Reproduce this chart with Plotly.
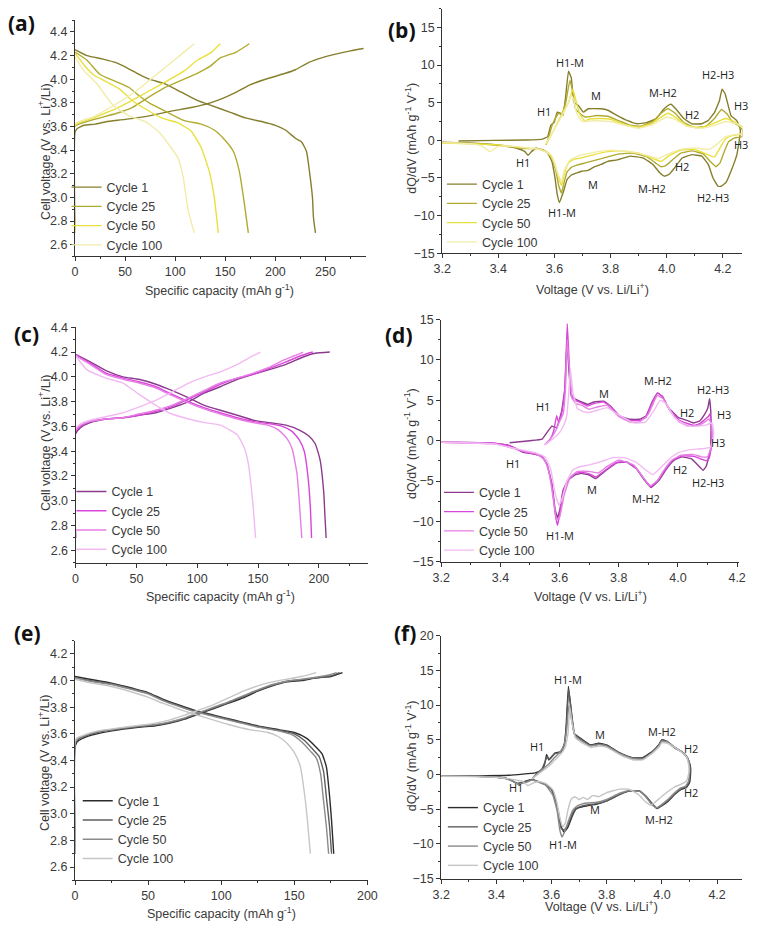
import plotly.graph_objects as go

W, H = 760, 928
AX_FONT = "Liberation Sans, Arial, sans-serif"
ANN_FONT = "Open Sans, sans-serif"
TXT = "#3a3a3a"
LINE = "#333333"

cycle_names = ["Cycle 1", "Cycle 25", "Cycle 50", "Cycle 100"]
a_colors = ["#857f2c", "#b0aa30", "#e8e03c", "#f2eca8"]
c_colors = ["#8b3a8e", "#d946d9", "#e67ee6", "#f2baf2"]
e_colors = ["#2b2b2b", "#5e5e5e", "#8a8a8a", "#c6c6c6"]

# ---------------- Panel (a): voltage profiles ----------------
a_c1_chg_cap = [0, 0, 2, 9, 20, 31, 50, 74, 96, 116, 135, 148, 161, 174, 194, 210, 220, 233, 246, 259, 275, 288]
a_c1_chg_v = [2.70, 3.55, 3.58, 3.61, 3.62, 3.64, 3.66, 3.69, 3.73, 3.76, 3.80, 3.84, 3.89, 3.95, 4.01, 4.05, 4.08, 4.14, 4.18, 4.21, 4.24, 4.26]
a_c1_dis_cap = [0, 12, 28, 41, 51, 64, 74, 90, 106, 122, 135, 155, 171, 187, 200, 210, 220, 226, 231, 234, 237, 238, 240]
a_c1_dis_v = [4.25, 4.20, 4.17, 4.14, 4.10, 4.04, 4.00, 3.96, 3.89, 3.82, 3.78, 3.72, 3.67, 3.64, 3.61, 3.57, 3.50, 3.47, 3.39, 3.22, 3.00, 2.83, 2.70]
a_c25_chg_cap = [0, 0, 15, 41, 57, 74, 90, 106, 122, 135, 145, 161, 174]
a_c25_chg_v = [2.70, 3.60, 3.65, 3.71, 3.76, 3.85, 3.93, 3.99, 4.05, 4.11, 4.18, 4.23, 4.30]
a_c25_dis_cap = [0, 12, 25, 41, 54, 64, 74, 90, 109, 126, 139, 148, 158, 164, 169, 173]
a_c25_dis_v = [4.23, 4.16, 4.04, 3.98, 3.93, 3.86, 3.80, 3.73, 3.65, 3.62, 3.57, 3.50, 3.39, 3.22, 2.95, 2.70]
a_c50_chg_cap = [0, 0, 18, 41, 57, 74, 93, 109, 122, 135, 145]
a_c50_chg_v = [2.70, 3.61, 3.67, 3.75, 3.82, 3.90, 3.99, 4.07, 4.16, 4.22, 4.30]
a_c50_dis_cap = [0, 9, 18, 31, 44, 57, 70, 87, 103, 116, 126, 134, 139, 143]
a_c50_dis_v = [4.22, 4.12, 4.04, 3.98, 3.92, 3.82, 3.75, 3.67, 3.63, 3.56, 3.42, 3.22, 3.00, 2.70]
a_c100_chg_cap = [0, 0, 18, 41, 61, 77, 93, 106, 119]
a_c100_chg_v = [2.70, 3.62, 3.68, 3.79, 3.90, 4.01, 4.12, 4.21, 4.30]
a_c100_dis_cap = [0, 9, 22, 38, 54, 70, 83, 96, 103, 108, 113, 119]
a_c100_dis_v = [4.19, 4.07, 3.96, 3.78, 3.69, 3.64, 3.56, 3.42, 3.33, 3.17, 2.89, 2.70]

# ---------------- Panel (c): voltage profiles ----------------
c_c1_chg_cap = [0, 0, 4, 12, 25, 39, 52, 66, 79, 93, 106, 119, 133, 146, 160, 173, 187, 197, 209]
c_c1_chg_v = [2.70, 3.54, 3.59, 3.63, 3.66, 3.67, 3.69, 3.71, 3.75, 3.80, 3.87, 3.92, 3.98, 4.02, 4.06, 4.10, 4.16, 4.19, 4.20]
c_c1_dis_cap = [0, 12, 25, 39, 52, 66, 79, 93, 106, 119, 133, 146, 160, 173, 184, 192, 197, 201, 204, 205, 206]
c_c1_dis_v = [4.18, 4.12, 4.05, 4.00, 3.98, 3.94, 3.89, 3.83, 3.77, 3.73, 3.69, 3.65, 3.63, 3.61, 3.57, 3.52, 3.46, 3.33, 3.07, 2.88, 2.70]
c_c25_chg_cap = [0, 0, 4, 12, 25, 39, 52, 66, 79, 93, 106, 119, 133, 146, 160, 173, 185, 195]
c_c25_chg_v = [2.70, 3.56, 3.60, 3.64, 3.66, 3.67, 3.69, 3.72, 3.76, 3.82, 3.88, 3.94, 3.99, 4.02, 4.07, 4.12, 4.17, 4.20]
c_c25_dis_cap = [0, 12, 25, 39, 52, 66, 79, 93, 106, 119, 133, 146, 160, 170, 178, 184, 188, 191, 193, 194]
c_c25_dis_v = [4.18, 4.11, 4.03, 3.99, 3.96, 3.92, 3.86, 3.80, 3.75, 3.71, 3.67, 3.64, 3.62, 3.60, 3.56, 3.49, 3.40, 3.20, 2.95, 2.70]
c_c50_chg_cap = [0, 0, 4, 12, 25, 39, 52, 66, 79, 93, 106, 119, 133, 146, 160, 170, 180, 187]
c_c50_chg_v = [2.70, 3.57, 3.61, 3.64, 3.66, 3.67, 3.70, 3.73, 3.77, 3.83, 3.89, 3.95, 3.99, 4.03, 4.08, 4.13, 4.17, 4.20]
c_c50_dis_cap = [0, 12, 25, 39, 52, 66, 79, 93, 106, 119, 133, 146, 158, 167, 174, 178, 182, 184, 186]
c_c50_dis_v = [4.17, 4.10, 4.02, 3.98, 3.95, 3.91, 3.85, 3.79, 3.74, 3.70, 3.66, 3.63, 3.61, 3.57, 3.50, 3.42, 3.22, 2.98, 2.70]
c_c100_chg_cap = [0, 0, 4, 12, 39, 66, 93, 106, 119, 133, 144, 152]
c_c100_chg_v = [2.70, 3.58, 3.62, 3.65, 3.71, 3.81, 3.95, 4.00, 4.04, 4.10, 4.16, 4.20]
c_c100_dis_cap = [0, 9, 25, 39, 52, 66, 79, 93, 106, 119, 133, 139, 142, 144, 146, 148]
c_c100_dis_v = [4.17, 4.06, 3.99, 3.95, 3.86, 3.77, 3.70, 3.66, 3.63, 3.61, 3.53, 3.42, 3.30, 3.15, 2.95, 2.70]

# ---------------- Panel (e): voltage profiles ----------------
e_c1_chg_cap = [0, 0, 1.5, 6, 15, 30, 45, 55, 65, 75, 85, 95, 105, 115, 125, 135, 145, 155, 165, 175, 183]
e_c1_chg_v = [2.70, 3.50, 3.54, 3.57, 3.60, 3.63, 3.65, 3.66, 3.68, 3.71, 3.75, 3.79, 3.83, 3.87, 3.92, 3.96, 3.99, 4.00, 4.02, 4.03, 4.06]
e_c1_dis_cap = [0, 10, 25, 40, 50, 60, 70, 82, 95, 110, 125, 140, 150, 158, 165, 169, 172, 174, 175.5, 177]
e_c1_dis_v = [4.03, 4.01, 3.98, 3.94, 3.91, 3.86, 3.82, 3.775, 3.74, 3.70, 3.66, 3.63, 3.61, 3.57, 3.50, 3.45, 3.35, 3.15, 2.95, 2.70]
e_c25_chg_cap = [0, 0, 1.5, 6, 15, 30, 45, 55, 65, 75, 85, 95, 105, 115, 125, 135, 145, 155, 165, 175, 181]
e_c25_chg_v = [2.70, 3.52, 3.55, 3.58, 3.61, 3.635, 3.655, 3.665, 3.685, 3.715, 3.755, 3.795, 3.835, 3.88, 3.925, 3.965, 3.995, 4.005, 4.02, 4.035, 4.06]
e_c25_dis_cap = [0, 10, 25, 40, 50, 60, 70, 82, 95, 110, 125, 140, 150, 157, 163, 167, 170, 172, 174, 175.5]
e_c25_dis_v = [4.02, 4.00, 3.975, 3.935, 3.905, 3.855, 3.815, 3.77, 3.735, 3.695, 3.655, 3.625, 3.60, 3.55, 3.48, 3.43, 3.32, 3.12, 2.92, 2.70]
e_c50_chg_cap = [0, 0, 1.5, 6, 15, 30, 45, 55, 65, 75, 85, 95, 105, 115, 125, 135, 145, 155, 165, 173, 179]
e_c50_chg_v = [2.70, 3.53, 3.56, 3.585, 3.615, 3.64, 3.66, 3.67, 3.69, 3.72, 3.76, 3.80, 3.84, 3.885, 3.93, 3.97, 3.995, 4.01, 4.025, 4.04, 4.06]
e_c50_dis_cap = [0, 10, 25, 40, 50, 60, 70, 82, 95, 110, 125, 140, 149, 155, 161, 165, 168, 170, 172, 173.5]
e_c50_dis_v = [4.02, 3.995, 3.97, 3.93, 3.90, 3.85, 3.81, 3.765, 3.73, 3.69, 3.65, 3.62, 3.59, 3.54, 3.47, 3.42, 3.30, 3.10, 2.90, 2.70]
e_c100_chg_cap = [0, 0, 1.5, 6, 15, 30, 45, 55, 65, 75, 85, 95, 105, 115, 125, 135, 145, 155, 165]
e_c100_chg_v = [2.70, 3.54, 3.57, 3.59, 3.62, 3.645, 3.665, 3.68, 3.705, 3.74, 3.78, 3.82, 3.87, 3.92, 3.96, 3.99, 4.01, 4.03, 4.06]
e_c100_dis_cap = [0, 10, 25, 40, 50, 60, 70, 78, 90, 105, 120, 132, 139, 145, 150, 154, 157, 159, 161]
e_c100_dis_v = [4.01, 3.985, 3.955, 3.91, 3.875, 3.83, 3.79, 3.76, 3.72, 3.67, 3.63, 3.61, 3.58, 3.53, 3.46, 3.36, 3.15, 2.95, 2.70]

# ---------------- Panel (b): dQ/dV ----------------
b_c1_chg_v = [3.258, 3.385, 3.50, 3.558, 3.576, 3.587, 3.599, 3.61, 3.622, 3.63, 3.639, 3.65, 3.66, 3.669, 3.686, 3.703, 3.72, 3.766, 3.79, 3.824, 3.859, 3.894, 3.928, 3.963, 3.986, 4.003, 4.015, 4.032, 4.061, 4.09, 4.125, 4.148, 4.171, 4.188, 4.197, 4.208, 4.229, 4.25, 4.262]
b_c1_chg_dq = [-0.09, 0.0, 0.05, 0.17, 0.5, 2.0, 2.4, 3.75, 3.6, 3.3, 5.5, 9.2, 8.3, 5.1, 4.6, 3.75, 4.2, 4.2, 4.0, 3.3, 2.65, 2.2, 2.35, 2.9, 4.0, 4.6, 4.8, 4.2, 2.9, 2.2, 2.2, 2.65, 3.75, 5.3, 6.8, 6.2, 3.3, 2.6, 1.5]
b_c1_dis_v = [4.262, 4.25, 4.229, 4.211, 4.194, 4.183, 4.165, 4.148, 4.125, 4.09, 4.055, 4.027, 4.009, 3.992, 3.975, 3.951, 3.917, 3.87, 3.824, 3.79, 3.766, 3.743, 3.72, 3.697, 3.674, 3.66, 3.645, 3.633, 3.618, 3.61, 3.602, 3.591, 3.576, 3.558, 3.535, 3.518, 3.506, 3.495, 3.466, 3.42, 3.327, 3.2]
b_c1_dis_dq = [0.9, -1.9, -4.1, -5.6, -6.1, -6.1, -5.0, -3.2, -2.1, -1.9, -2.35, -3.7, -4.5, -4.75, -4.3, -3.2, -2.35, -2.1, -2.6, -2.8, -3.2, -3.5, -4.0, -4.1, -4.4, -4.6, -5.2, -6.7, -8.25, -7.2, -5.0, -2.8, -1.7, -1.25, -1.05, -1.5, -2.0, -1.5, -1.05, -0.7, -0.4, -0.26]
b_c25_chg_v = [3.57, 3.58, 3.59, 3.60, 3.615, 3.625, 3.64, 3.655, 3.665, 3.675, 3.69, 3.71, 3.75, 3.79, 3.83, 3.87, 3.91, 3.95, 3.98, 4.005, 4.03, 4.06, 4.10, 4.14, 4.17, 4.195, 4.215, 4.235, 4.255, 4.27]
b_c25_chg_dq = [-0.6, 0.5, 1.8, 2.7, 3.6, 3.4, 5.0, 8.0, 6.5, 4.2, 3.6, 3.1, 3.3, 3.2, 2.6, 2.0, 1.9, 2.5, 3.6, 4.2, 3.6, 2.4, 1.7, 1.9, 2.9, 4.1, 3.5, 2.4, 2.0, 1.4]
b_c25_dis_v = [4.27, 4.24, 4.22, 4.205, 4.19, 4.175, 4.155, 4.13, 4.09, 4.05, 4.02, 3.995, 3.98, 3.96, 3.93, 3.88, 3.83, 3.79, 3.75, 3.71, 3.68, 3.66, 3.645, 3.635, 3.625, 3.615, 3.605, 3.59, 3.57, 3.54, 3.50, 3.45, 3.35, 3.2]
b_c25_dis_dq = [0.5, 0.3, -0.2, -1.5, -3.0, -3.5, -2.8, -1.8, -1.4, -1.7, -2.6, -3.4, -3.5, -3.0, -2.2, -1.7, -1.8, -2.2, -2.6, -3.0, -3.3, -3.6, -4.2, -5.5, -7.0, -6.0, -4.0, -2.3, -1.5, -1.1, -1.1, -0.9, -0.5, -0.3]
b_c50_chg_v = [3.57, 3.59, 3.61, 3.63, 3.65, 3.665, 3.675, 3.69, 3.71, 3.72, 3.76, 3.80, 3.85, 3.90, 3.95, 3.98, 4.005, 4.03, 4.07, 4.12, 4.17, 4.21, 4.24, 4.27, 4.29]
b_c50_chg_dq = [-0.5, 0.8, 2.3, 3.8, 5.0, 6.8, 5.5, 3.5, 2.5, 2.8, 2.9, 2.8, 2.1, 1.7, 2.3, 3.1, 3.6, 3.1, 2.0, 1.7, 2.3, 2.9, 2.5, 1.8, 1.3]
b_c50_dis_v = [4.29, 4.26, 4.23, 4.21, 4.19, 4.17, 4.14, 4.10, 4.05, 4.01, 3.98, 3.95, 3.90, 3.84, 3.79, 3.74, 3.70, 3.67, 3.65, 3.635, 3.625, 3.615, 3.60, 3.58, 3.55, 3.50, 3.45, 3.40, 3.30, 3.2]
b_c50_dis_dq = [1.0, 0.8, 0.6, 0.2, -1.0, -2.2, -1.8, -1.2, -1.3, -2.0, -2.8, -2.4, -1.7, -1.4, -1.5, -1.9, -2.3, -2.5, -3.0, -4.5, -6.0, -5.0, -3.0, -1.7, -1.2, -1.0, -0.8, -0.6, -0.45, -0.35]
b_c100_chg_v = [3.57, 3.60, 3.63, 3.65, 3.66, 3.67, 3.68, 3.70, 3.74, 3.80, 3.85, 3.90, 3.95, 4.0, 4.03, 4.07, 4.12, 4.17, 4.21, 4.25, 4.29]
b_c100_chg_dq = [-0.4, 1.5, 3.5, 5.0, 6.0, 5.2, 3.5, 2.5, 2.6, 2.5, 2.0, 1.6, 2.1, 3.1, 2.8, 1.9, 1.6, 2.0, 2.5, 2.2, 1.2]
b_c100_dis_v = [4.29, 4.25, 4.21, 4.18, 4.15, 4.10, 4.05, 4.00, 3.97, 3.93, 3.87, 3.80, 3.74, 3.69, 3.655, 3.635, 3.625, 3.61, 3.59, 3.55, 3.50, 3.45, 3.40, 3.37, 3.34, 3.30, 3.25, 3.2]
b_c100_dis_dq = [1.0, 0.8, 0.5, -0.5, -1.2, -1.0, -1.2, -1.9, -2.4, -2.0, -1.5, -1.3, -1.6, -2.0, -2.6, -4.0, -5.5, -4.2, -2.0, -1.2, -1.0, -0.8, -0.8, -1.5, -0.7, -0.45, -0.35, -0.3]

# ---------------- Panel (d): dQ/dV ----------------
d_c1_chg_v = [3.431, 3.50, 3.541, 3.574, 3.59, 3.607, 3.618, 3.625, 3.632, 3.64, 3.662, 3.695, 3.716, 3.749, 3.771, 3.804, 3.837, 3.87, 3.892, 3.914, 3.931, 3.947, 3.969, 4.002, 4.035, 4.052, 4.074, 4.09, 4.101, 4.107, 4.111, 4.112]
d_c1_chg_dq = [-0.25, 0.0, 0.2, 1.8, 1.6, 3.65, 6.5, 12.3, 8.5, 5.5, 5.0, 4.5, 4.8, 4.9, 4.3, 3.05, 2.65, 2.65, 3.05, 4.9, 5.9, 5.5, 4.05, 2.85, 2.45, 2.2, 2.45, 3.25, 4.05, 5.2, 3.65, 1.2]
d_c1_dis_v = [4.112, 4.11, 4.095, 4.085, 4.068, 4.046, 4.013, 3.986, 3.958, 3.936, 3.909, 3.887, 3.859, 3.826, 3.793, 3.76, 3.738, 3.722, 3.70, 3.673, 3.651, 3.629, 3.612, 3.601, 3.593, 3.585, 3.574, 3.557, 3.541, 3.519, 3.497, 3.475, 3.453, 3.431, 3.376, 3.2]
d_c1_dis_dq = [1.2, -1.2, -3.2, -3.66, -3.05, -2.25, -2.0, -2.45, -3.66, -4.9, -5.8, -4.9, -3.45, -2.65, -2.75, -3.6, -4.25, -4.7, -4.25, -4.05, -4.25, -4.9, -6.1, -8.5, -9.55, -8.5, -5.3, -2.85, -2.0, -1.7, -1.55, -1.4, -1.0, -0.6, -0.3, -0.2]
d_c25_chg_v = [3.55, 3.57, 3.58, 3.59, 3.597, 3.607, 3.617, 3.622, 3.626, 3.632, 3.64, 3.652, 3.673, 3.695, 3.716, 3.749, 3.771, 3.804, 3.837, 3.87, 3.892, 3.914, 3.931, 3.947, 3.969, 4.002, 4.035, 4.055, 4.074, 4.09, 4.103, 4.108, 4.112, 4.114]
d_c25_chg_dq = [-0.5, 0.3, 1.2, 3.1, 2.2, 3.4, 6.0, 10.5, 14.5, 10.0, 5.8, 5.0, 4.7, 4.3, 4.6, 4.8, 4.3, 3.0, 2.5, 2.5, 2.9, 4.8, 5.9, 5.5, 4.0, 2.6, 2.1, 1.9, 2.1, 2.6, 3.0, 3.3, 2.5, 1.0]
d_c25_dis_v = [4.114, 4.112, 4.105, 4.095, 4.08, 4.06, 4.04, 4.013, 3.986, 3.958, 3.936, 3.909, 3.887, 3.859, 3.826, 3.793, 3.76, 3.738, 3.722, 3.70, 3.673, 3.651, 3.629, 3.612, 3.601, 3.593, 3.585, 3.574, 3.557, 3.541, 3.519, 3.497, 3.475, 3.453, 3.431, 3.376, 3.2]
d_c25_dis_dq = [0.5, -1.0, -2.2, -2.5, -2.3, -2.0, -1.9, -1.9, -2.3, -3.5, -4.7, -5.7, -4.8, -3.4, -2.6, -2.7, -3.5, -4.1, -4.5, -4.1, -3.9, -4.1, -4.8, -6.3, -9.0, -10.5, -9.0, -5.5, -2.9, -2.0, -1.7, -1.5, -1.35, -1.0, -0.6, -0.3, -0.2]
d_c50_chg_v = [3.555, 3.575, 3.59, 3.60, 3.612, 3.62, 3.626, 3.633, 3.642, 3.655, 3.675, 3.70, 3.73, 3.76, 3.80, 3.84, 3.87, 3.90, 3.93, 3.95, 3.975, 4.005, 4.04, 4.07, 4.09, 4.105, 4.113, 4.116]
d_c50_chg_dq = [-0.4, 0.5, 1.5, 2.4, 3.3, 6.5, 12.5, 9.0, 5.3, 4.6, 4.4, 3.9, 4.2, 4.4, 3.0, 2.3, 2.3, 3.3, 5.6, 5.2, 3.6, 2.3, 1.8, 1.9, 2.3, 2.7, 2.0, 0.8]
d_c50_dis_v = [4.116, 4.112, 4.10, 4.08, 4.05, 4.01, 3.98, 3.95, 3.93, 3.905, 3.88, 3.85, 3.80, 3.76, 3.73, 3.70, 3.66, 3.635, 3.615, 3.60, 3.59, 3.58, 3.565, 3.55, 3.52, 3.48, 3.44, 3.38, 3.2]
d_c50_dis_dq = [0.5, -0.8, -2.0, -2.0, -1.7, -1.8, -2.4, -3.8, -5.0, -5.6, -4.4, -3.0, -2.4, -3.2, -4.0, -3.8, -3.8, -4.6, -6.8, -9.5, -9.8, -7.5, -4.0, -2.4, -1.6, -1.3, -0.9, -0.4, -0.2]
d_c100_chg_v = [3.55, 3.58, 3.60, 3.615, 3.625, 3.632, 3.637, 3.645, 3.66, 3.68, 3.70, 3.73, 3.76, 3.80, 3.85, 3.89, 3.92, 3.94, 3.96, 3.99, 4.03, 4.07, 4.10, 4.115, 4.12]
d_c100_chg_dq = [-0.5, 0.3, 1.0, 2.0, 3.2, 6.5, 8.8, 6.0, 4.0, 3.6, 3.5, 3.8, 4.1, 3.2, 2.2, 2.3, 3.8, 5.0, 4.6, 2.8, 1.8, 1.8, 2.0, 2.2, 1.3]
d_c100_dis_v = [4.12, 4.11, 4.08, 4.04, 4.00, 3.97, 3.94, 3.915, 3.89, 3.86, 3.82, 3.78, 3.74, 3.70, 3.67, 3.645, 3.625, 3.61, 3.598, 3.585, 3.57, 3.55, 3.52, 3.48, 3.44, 3.38, 3.2]
d_c100_dis_dq = [0.5, -0.8, -1.0, -1.1, -1.5, -2.3, -3.4, -4.2, -3.6, -2.7, -2.1, -2.1, -2.6, -3.0, -3.2, -3.6, -5.0, -7.0, -8.0, -6.5, -3.5, -2.0, -1.5, -1.2, -0.9, -0.4, -0.2]

# ---------------- Panel (f): dQ/dV ----------------
f_c1_chg_v = [3.253, 3.447, 3.541, 3.565, 3.576, 3.582, 3.59, 3.612, 3.635, 3.647, 3.653, 3.661, 3.671, 3.682, 3.706, 3.741, 3.771, 3.80, 3.847, 3.894, 3.929, 3.965, 3.988, 4.0, 4.018, 4.047, 4.071, 4.088, 4.10, 4.104]
f_c1_chg_dq = [-0.24, -0.1, 0.24, 0.6, 1.65, 2.9, 2.1, 3.1, 3.3, 4.5, 7.0, 12.7, 9.2, 5.9, 5.2, 4.25, 4.5, 4.25, 3.1, 2.4, 2.4, 3.3, 4.25, 5.0, 4.7, 3.8, 3.3, 2.6, 1.65, 0.95]
f_c1_dis_v = [4.104, 4.10, 4.088, 4.071, 4.047, 4.024, 4.0, 3.982, 3.965, 3.941, 3.918, 3.882, 3.847, 3.80, 3.765, 3.729, 3.706, 3.688, 3.676, 3.659, 3.645, 3.635, 3.625, 3.612, 3.60, 3.576, 3.553, 3.53, 3.506, 3.476, 3.453, 3.424, 3.33, 3.2]
f_c1_dis_dq = [0.24, -1.2, -1.9, -2.1, -2.85, -3.8, -4.5, -4.9, -4.25, -3.1, -2.35, -2.35, -2.85, -3.8, -4.25, -4.5, -4.7, -5.0, -5.9, -7.6, -8.3, -7.5, -5.5, -3.5, -2.1, -1.4, -1.05, -0.7, -0.95, -1.3, -0.8, -0.47, -0.24, -0.24]
f_c25_chg_v = [3.53, 3.55, 3.565, 3.576, 3.584, 3.592, 3.612, 3.635, 3.647, 3.654, 3.662, 3.672, 3.684, 3.706, 3.741, 3.771, 3.80, 3.847, 3.894, 3.929, 3.965, 3.988, 4.0, 4.018, 4.047, 4.071, 4.088, 4.098, 4.102]
f_c25_chg_dq = [-0.6, 0.3, 0.8, 1.8, 2.6, 2.2, 3.0, 3.2, 4.3, 7.0, 12.3, 9.0, 5.8, 5.1, 4.2, 4.4, 4.2, 3.0, 2.3, 2.3, 3.2, 4.2, 5.0, 4.8, 3.9, 3.3, 2.7, 1.9, 1.0]
f_c25_dis_v = [4.102, 4.098, 4.088, 4.071, 4.047, 4.024, 4.0, 3.982, 3.965, 3.941, 3.918, 3.882, 3.847, 3.80, 3.765, 3.729, 3.706, 3.688, 3.676, 3.659, 3.645, 3.635, 3.625, 3.612, 3.60, 3.576, 3.553, 3.53, 3.506, 3.476, 3.453, 3.424, 3.33, 3.2]
f_c25_dis_dq = [0.3, -1.1, -1.8, -2.0, -2.8, -3.7, -4.4, -4.8, -4.2, -3.1, -2.4, -2.4, -2.9, -3.8, -4.2, -4.4, -4.6, -4.9, -5.6, -7.3, -8.0, -7.8, -5.8, -3.6, -2.2, -1.4, -1.05, -0.75, -1.0, -1.3, -0.8, -0.47, -0.24, -0.24]
f_c50_chg_v = [3.53, 3.56, 3.59, 3.61, 3.63, 3.645, 3.655, 3.663, 3.672, 3.685, 3.706, 3.741, 3.771, 3.80, 3.847, 3.894, 3.929, 3.965, 3.988, 4.0, 4.018, 4.047, 4.071, 4.088, 4.098, 4.10]
f_c50_chg_dq = [-0.6, 0.5, 1.5, 2.4, 3.2, 4.2, 6.5, 10.0, 8.0, 5.5, 4.9, 4.1, 4.3, 4.1, 3.0, 2.3, 2.2, 3.1, 4.1, 4.8, 4.7, 3.9, 3.3, 2.7, 1.9, 1.0]
f_c50_dis_v = [4.10, 4.096, 4.085, 4.07, 4.047, 4.024, 4.0, 3.98, 3.962, 3.941, 3.918, 3.882, 3.847, 3.80, 3.765, 3.729, 3.706, 3.69, 3.676, 3.66, 3.648, 3.638, 3.63, 3.62, 3.605, 3.58, 3.553, 3.53, 3.51, 3.48, 3.455, 3.424, 3.33, 3.2]
f_c50_dis_dq = [0.3, -1.0, -1.7, -1.9, -2.6, -3.5, -4.3, -4.8, -4.3, -3.2, -2.4, -2.3, -2.7, -3.6, -4.0, -4.1, -4.3, -4.6, -5.2, -6.8, -8.2, -9.0, -8.0, -5.2, -3.0, -1.6, -1.1, -0.8, -1.1, -1.4, -0.9, -0.5, -0.25, -0.24]
f_c100_chg_v = [3.53, 3.56, 3.59, 3.61, 3.635, 3.65, 3.66, 3.666, 3.674, 3.688, 3.71, 3.745, 3.775, 3.80, 3.85, 3.895, 3.93, 3.965, 3.99, 4.0, 4.02, 4.05, 4.075, 4.09, 4.098]
f_c100_chg_dq = [-0.6, 0.3, 1.2, 2.0, 3.0, 4.0, 6.0, 9.8, 7.5, 5.2, 4.6, 3.9, 4.1, 3.9, 2.8, 2.1, 2.1, 3.1, 4.0, 4.6, 4.5, 3.8, 3.1, 2.5, 1.2]
f_c100_dis_v = [4.098, 4.09, 4.07, 4.045, 4.02, 3.995, 3.975, 3.96, 3.94, 3.915, 3.88, 3.845, 3.80, 3.77, 3.75, 3.73, 3.715, 3.70, 3.685, 3.672, 3.66, 3.65, 3.64, 3.63, 3.618, 3.605, 3.58, 3.555, 3.535, 3.515, 3.495, 3.46, 3.40, 3.3, 3.2]
f_c100_dis_dq = [0.3, -0.9, -1.4, -1.8, -2.5, -3.3, -4.0, -4.4, -3.9, -2.9, -2.1, -2.1, -2.6, -3.2, -3.0, -3.6, -3.3, -3.6, -3.2, -3.5, -5.0, -7.0, -7.6, -6.2, -3.8, -2.2, -1.3, -1.0, -1.2, -1.6, -1.0, -0.7, -0.4, -0.3, -0.25]

# ---------------- Peak annotations ----------------
b_ann_text = ["H1-M", "H1", "M", "M-H2", "H2", "H2-H3", "H3", "H3", "H1", "M", "M-H2", "H2", "H2-H3", "H1-M"]
b_ann_v = [3.657, 3.564, 3.749, 3.986, 4.09, 4.183, 4.264, 4.264, 3.489, 3.738, 3.946, 4.055, 4.165, 3.628]
b_ann_dq = [10.4, 3.85, 5.9, 6.3, 3.5, 8.8, 4.6, -0.5, -3.0, -5.85, -6.4, -3.45, -7.6, -9.55]
d_ann_text = ["H1-M", "H1", "M", "M-H2", "H2-H3", "H2", "H3", "H3", "H1", "M", "M-H2", "H2", "H2-H3", "H1-M"]
d_ann_v = [3.625, 3.543, 3.749, 3.931, 4.118, 4.03, 4.156, 4.134, 3.442, 3.711, 3.892, 4.008, 4.101, 3.601]
d_ann_dq = [15.5, 4.2, 5.9, 7.4, 6.4, 3.45, 3.2, -0.2, -2.85, -6.0, -7.1, -3.6, -5.2, -11.8]
f_ann_text = ["H1-M", "H1", "M", "M-H2", "H2", "H2", "M-H2", "M", "H1", "H1-M"]
f_ann_v = [3.659, 3.549, 3.776, 4.0, 4.106, 4.106, 3.988, 3.759, 3.471, 3.641]
f_ann_dq = [13.7, 4.0, 5.7, 6.15, 3.8, -2.6, -6.5, -5.05, -1.9, -10.1]

# ---------------- Figure construction ----------------
def px_x(p):
    return p / W


def px_y(p):
    return 1 - p / H


fig = go.Figure()


def axis(domain, rng, dtick, minor_dtick, tick0=None, fmt=None):
    d = dict(domain=domain, range=rng, dtick=dtick, showline=True, linecolor=LINE, linewidth=1,
             ticks="outside", ticklen=4, tickwidth=1, tickcolor=LINE, showgrid=False, zeroline=False,
             tickfont=dict(family=AX_FONT, size=12.5, color=TXT),
             minor=dict(ticks="outside", ticklen=2, tickwidth=1, tickcolor=LINE, dtick=minor_dtick, showgrid=False))
    if tick0 is not None:
        d["tick0"] = tick0
    if fmt is not None:
        d["tickformat"] = fmt
    return d


# (panel index, x-domain px, y-domain px (top, bottom), x range, y range, xdtick, xminor, ydtick, yminor, ytick0, xfmt, yfmt)
panels = {
    "a": (1, (67.7, 365.7), (13.3, 253.3), [0, 290], [2.5, 4.5], 50, 25, 0.2, 0.1, 2.6, None, ".1f"),
    "b": (2, (444.3, 752.3), (1.7, 250.0), [3.2, 4.27], [-15, 17.5], 0.2, 0.1, 5, 2.5, 0, ".1f", None),
    "c": (3, (68.3, 367.7), (325.0, 564.3), [0, 240], [2.5, 4.401], 50, 25, 0.2, 0.1, 2.6, None, ".1f"),
    "d": (4, (443.3, 748.3), (317.3, 563.3), [3.2, 4.205], [-15, 15.01], 0.2, 0.1, 5, 2.5, 0, ".1f", None),
    "e": (5, (67.7, 368.3), (643.3, 886.7), [0, 200.5], [2.5, 4.3], 50, 25, 0.2, 0.1, 2.6, None, ".1f"),
    "f": (6, (443.3, 751.7), (638.3, 885.0), [3.2, 4.29], [-15, 20], 0.2, 0.1, 5, 2.5, 0, ".1f", None),
}

layout_axes = {}
for key, (i, xd, yd, xr, yr, xdt, xmn, ydt, ymn, yt0, xfmt, yfmt) in panels.items():
    sfx = "" if i == 1 else str(i)
    xa = axis([px_x(xd[0]), px_x(xd[1])], xr, xdt, xmn, tick0=0 if xfmt is None else 3.2, fmt=xfmt)
    ya = axis([px_y(yd[1]), px_y(yd[0])], yr, ydt, ymn, tick0=yt0, fmt=yfmt)
    xa["anchor"] = "y" + sfx
    ya["anchor"] = "x" + sfx
    layout_axes["xaxis" + sfx] = xa
    layout_axes["yaxis" + sfx] = ya


def legend_cfg(left_px, top_px):
    return dict(x=px_x(left_px), y=px_y(top_px), xanchor="left", yanchor="top",
                bgcolor="rgba(0,0,0,0)", borderwidth=0, tracegroupgap=0, itemwidth=30,
                font=dict(family=AX_FONT, size=12.5, color=TXT))


def cap_trace(chg_cap, chg_v, dis_cap, dis_v, name, color, idx, legend):
    sfx = "" if idx == 1 else str(idx)
    return go.Scatter(x=chg_cap + [None] + dis_cap, y=chg_v + [None] + dis_v, mode="lines", name=name,
                      line=dict(color=color, width=1.4, shape="spline", smoothing=0.5),
                      xaxis="x" + sfx, yaxis="y" + sfx, legend=legend, connectgaps=False)


def dq_trace(chg_v, chg_dq, dis_v, dis_dq, name, color, idx, legend):
    sfx = "" if idx == 1 else str(idx)
    return go.Scatter(x=chg_v + dis_v, y=chg_dq + dis_dq, mode="lines", name=name,
                      line=dict(color=color, width=1.4, shape="spline", smoothing=0.3),
                      xaxis="x" + sfx, yaxis="y" + sfx, legend=legend)


a_sets = [(a_c1_chg_cap, a_c1_chg_v, a_c1_dis_cap, a_c1_dis_v), (a_c25_chg_cap, a_c25_chg_v, a_c25_dis_cap, a_c25_dis_v),
          (a_c50_chg_cap, a_c50_chg_v, a_c50_dis_cap, a_c50_dis_v), (a_c100_chg_cap, a_c100_chg_v, a_c100_dis_cap, a_c100_dis_v)]
c_sets = [(c_c1_chg_cap, c_c1_chg_v, c_c1_dis_cap, c_c1_dis_v), (c_c25_chg_cap, c_c25_chg_v, c_c25_dis_cap, c_c25_dis_v),
          (c_c50_chg_cap, c_c50_chg_v, c_c50_dis_cap, c_c50_dis_v), (c_c100_chg_cap, c_c100_chg_v, c_c100_dis_cap, c_c100_dis_v)]
e_sets = [(e_c1_chg_cap, e_c1_chg_v, e_c1_dis_cap, e_c1_dis_v), (e_c25_chg_cap, e_c25_chg_v, e_c25_dis_cap, e_c25_dis_v),
          (e_c50_chg_cap, e_c50_chg_v, e_c50_dis_cap, e_c50_dis_v), (e_c100_chg_cap, e_c100_chg_v, e_c100_dis_cap, e_c100_dis_v)]
b_sets = [(b_c1_chg_v, b_c1_chg_dq, b_c1_dis_v, b_c1_dis_dq), (b_c25_chg_v, b_c25_chg_dq, b_c25_dis_v, b_c25_dis_dq),
          (b_c50_chg_v, b_c50_chg_dq, b_c50_dis_v, b_c50_dis_dq), (b_c100_chg_v, b_c100_chg_dq, b_c100_dis_v, b_c100_dis_dq)]
d_sets = [(d_c1_chg_v, d_c1_chg_dq, d_c1_dis_v, d_c1_dis_dq), (d_c25_chg_v, d_c25_chg_dq, d_c25_dis_v, d_c25_dis_dq),
          (d_c50_chg_v, d_c50_chg_dq, d_c50_dis_v, d_c50_dis_dq), (d_c100_chg_v, d_c100_chg_dq, d_c100_dis_v, d_c100_dis_dq)]
f_sets = [(f_c1_chg_v, f_c1_chg_dq, f_c1_dis_v, f_c1_dis_dq), (f_c25_chg_v, f_c25_chg_dq, f_c25_dis_v, f_c25_dis_dq),
          (f_c50_chg_v, f_c50_chg_dq, f_c50_dis_v, f_c50_dis_dq), (f_c100_chg_v, f_c100_chg_dq, f_c100_dis_v, f_c100_dis_dq)]

for k in range(4):
    fig.add_trace(cap_trace(*a_sets[k], cycle_names[k], a_colors[k], 1, "legend"))
for k in range(4):
    fig.add_trace(dq_trace(*b_sets[k], cycle_names[k], a_colors[k], 2, "legend2"))
for k in range(4):
    fig.add_trace(cap_trace(*c_sets[k], cycle_names[k], c_colors[k], 3, "legend3"))
for k in range(4):
    fig.add_trace(dq_trace(*d_sets[k], cycle_names[k], c_colors[k], 4, "legend4"))
for k in range(4):
    fig.add_trace(cap_trace(*e_sets[k], cycle_names[k], e_colors[k], 5, "legend5"))
for k in range(4):
    fig.add_trace(dq_trace(*f_sets[k], cycle_names[k], e_colors[k], 6, "legend6"))

annotations = []


def peak_labels(texts, vs, dqs, idx):
    sfx = "" if idx == 1 else str(idx)
    for t, v, q in zip(texts, vs, dqs):
        annotations.append(dict(x=v, y=q, xref="x" + sfx, yref="y" + sfx, text=t, showarrow=False,
                                font=dict(family=ANN_FONT, size=11, color="#222222")))


peak_labels(b_ann_text, b_ann_v, b_ann_dq, 2)
peak_labels(d_ann_text, d_ann_v, d_ann_dq, 4)
peak_labels(f_ann_text, f_ann_v, f_ann_dq, 6)

# axis titles and panel letters
cap_title = "Specific capacity (mAh g<sup>-1</sup>)"
volt_title = "Voltage (V vs. Li/Li<sup>+</sup>)"
cell_title = "Cell voltage (V vs. Li<sup>+</sup>/Li)"
dq_title = "dQ/dV (mAh g<sup>-1</sup> V<sup>-1</sup>)"

titles = [
    (cap_title, 216, 287, 0), (cell_title, 36, 147, -90),
    (volt_title, 598, 286, 0), (dq_title, 412, 133, -90),
    (cap_title, 217, 598, 0), (cell_title, 36.5, 443, -90),
    (volt_title, 596, 598, 0), (dq_title, 412, 443, -90),
    (cap_title, 218, 920, 0), (cell_title, 36.5, 768, -90),
    (volt_title, 608, 913, 0), (dq_title, 412, 760, -90),
]
for t, xp, yp, ang in titles:
    annotations.append(dict(x=px_x(xp), y=px_y(yp), xref="paper", yref="paper", text=t, showarrow=False,
                            textangle=ang, xanchor="center", yanchor="middle",
                            font=dict(family=AX_FONT, size=12.5, color=TXT)))

letters = [("(a)", 13, 16), ("(b)", 403, 23), ("(c)", 18, 332), ("(d)", 400, 333), ("(e)", 19, 636), ("(f)", 406, 636)]
for t, xp, yp in letters:
    annotations.append(dict(x=px_x(xp), y=px_y(yp), xref="paper", yref="paper", text="<b>" + t + "</b>",
                            showarrow=False, xanchor="center", yanchor="middle",
                            font=dict(family=ANN_FONT, size=21, color="#111111")))

fig.update_layout(
    width=W, height=H, autosize=False,
    margin=dict(l=0, r=0, t=0, b=0),
    paper_bgcolor="white", plot_bgcolor="white",
    showlegend=True,
    annotations=annotations,
    legend=legend_cfg(59, 168),
    legend2=legend_cfg(444, 165),
    legend3=legend_cfg(64, 477),
    legend4=legend_cfg(441, 478),
    legend5=legend_cfg(70.5, 791),
    legend6=legend_cfg(445, 798),
    **layout_axes,
)

fig.write_html("out.html")
